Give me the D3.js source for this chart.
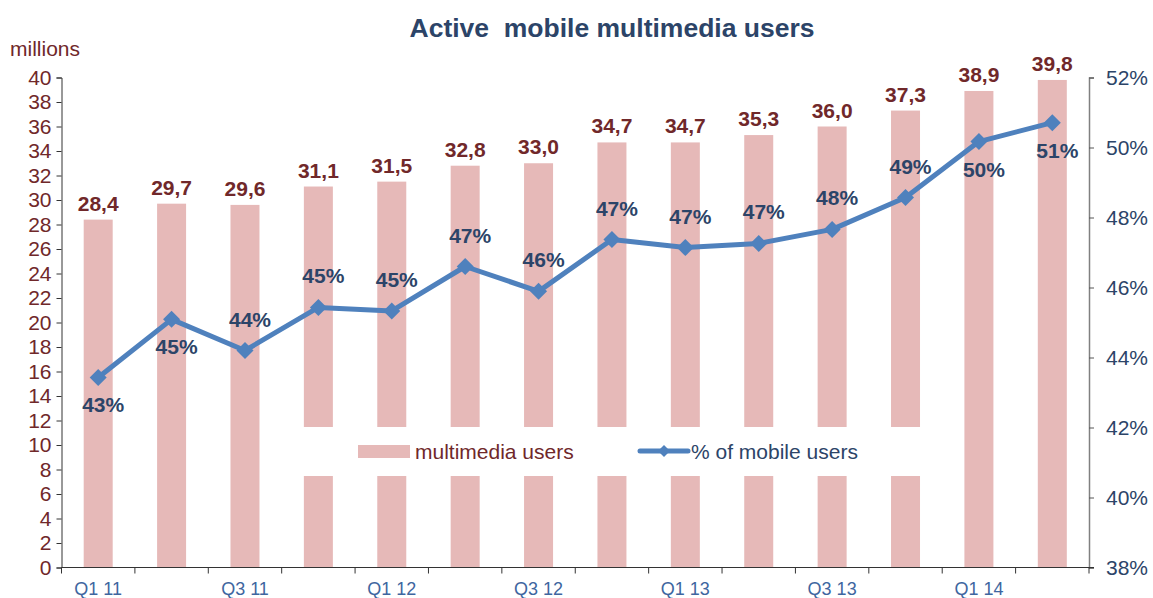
<!DOCTYPE html>
<html><head><meta charset="utf-8">
<script src="https://cdn.jsdelivr.net/npm/d3@7"></script>
<style>body{margin:0;background:#fff}svg{display:block;font-family:Arial,"Liberation Sans",sans-serif}</style>
</head><body><svg id="c" width="1153" height="598"></svg>
<script>
const categories = ["Q1 11","Q2 11","Q3 11","Q4 11","Q1 12","Q2 12","Q3 12","Q4 12","Q1 13","Q2 13","Q3 13","Q4 13","Q1 14","Q2 14"];
const users = [28.4,29.7,29.6,31.1,31.5,32.8,33.0,34.7,34.7,35.3,36.0,37.3,38.9,39.8];
const share = [43.43,45.09,44.2,45.43,45.33,46.6,45.89,47.37,47.14,47.26,47.66,48.57,50.17,50.71];
const shareLabels = ["43%","45%","44%","45%","45%","47%","46%","47%","47%","47%","48%","49%","50%","51%"];
const labelBelow = [true,true,false,false,false,false,false,false,false,false,false,false,true,true];
const xTickLabels = ["Q1 11","Q3 11","Q1 12","Q3 12","Q1 13","Q3 13","Q1 14"];
const leftTicks = d3.range(0,41,2);
const rightTicks = [38,40,42,44,46,48,50,52];

const svg = d3.select("#c");
const L = 61.5, R = 1089, T = 77.5, B = 567.5;
const xb = d3.scaleBand().domain(categories).range([L,R]);
const yL = d3.scaleLinear().domain([0,40]).range([B,T]);
const yR = d3.scaleLinear().domain([38,52]).range([B,T]);

const barColor = "#E6B9B8", lineColor = "#4F81BD", maroon = "#70282A", navy = "#2C4468";
const diamond = h => `M0,${-h}L${h},0L0,${h}L${-h},0Z`;

// title
svg.append("text").attr("x",612).attr("y",37).attr("text-anchor","middle")
  .attr("font-size",26.5).attr("font-weight","bold").attr("fill",navy)
  .attr("xml:space","preserve").text("Active  mobile multimedia users");
svg.append("text").attr("x",10).attr("y",56).attr("font-size",21).attr("fill",maroon).text("millions");

// bars
svg.append("g").selectAll("rect").data(users).join("rect")
  .attr("x",(d,i)=>xb(categories[i])+xb.bandwidth()/2-14.5)
  .attr("width",29)
  .attr("y",d=>yL(d)).attr("height",d=>B-yL(d)).attr("fill",barColor);

// bar labels
svg.append("g").selectAll("text").data(users).join("text")
  .attr("x",(d,i)=>xb(categories[i])+xb.bandwidth()/2)
  .attr("y",d=>yL(d)-9).attr("text-anchor","middle")
  .attr("font-size",21).attr("font-weight","bold").attr("fill",maroon)
  .text(d=>d.toFixed(1).replace(".",","));

// legend white box
svg.append("rect").attr("x",296).attr("y",427).attr("width",630).attr("height",49).attr("fill","#fff");

// axes
const axL = svg.append("g").attr("transform",`translate(${L},0)`)
  .call(d3.axisLeft(yL).tickValues(leftTicks).tickSize(5).tickPadding(5).tickFormat(d3.format("d")));
axL.select(".domain").attr("stroke","#333");
axL.selectAll(".tick line").attr("stroke","#333");
axL.selectAll(".tick text").attr("font-size",21).attr("fill",maroon).attr("font-family","Arial, Liberation Sans, sans-serif");

const axR = svg.append("g").attr("transform",`translate(${R},0)`)
  .call(d3.axisRight(yR).tickValues(rightTicks).tickSize(5).tickPadding(12).tickFormat(d=>d+"%"));
axR.select(".domain").attr("stroke","#808080").attr("stroke-width",1.5);
axR.selectAll(".tick line").attr("stroke","#555");
axR.selectAll(".tick text").attr("font-size",21).attr("fill",navy).attr("font-family","Arial, Liberation Sans, sans-serif");

const axB = svg.append("g").attr("transform",`translate(0,${B})`)
  .call(d3.axisBottom(xb).tickValues(xTickLabels).tickSize(0).tickPadding(15));
axB.select(".domain").attr("stroke","#333").attr("d",`M${L},0H${R+5}`);
axB.selectAll(".tick text").attr("font-size",18).attr("fill","#3E66A0").attr("font-family","Arial, Liberation Sans, sans-serif");
svg.append("g").selectAll("line").data(d3.range(categories.length+1)).join("line")
  .attr("x1",i=>L+i*xb.step()).attr("x2",i=>L+i*xb.step())
  .attr("y1",B).attr("y2",B+6).attr("stroke","#333");

// line
const cx = i => xb(categories[i])+xb.bandwidth()/2;
svg.append("path").datum(share)
  .attr("d",d3.line().x((d,i)=>cx(i)).y(d=>yR(d)))
  .attr("fill","none").attr("stroke",lineColor).attr("stroke-width",5).attr("stroke-linejoin","round");
svg.append("g").selectAll("path").data(share).join("path")
  .attr("d",diamond(8.5))
  .attr("transform",(d,i)=>`translate(${cx(i)},${yR(d)})`).attr("fill",lineColor);

svg.append("g").selectAll("text").data(share).join("text")
  .attr("x",(d,i)=>cx(i)+5)
  .attr("y",(d,i)=>labelBelow[i]?yR(d)+35:yR(d)-24)
  .attr("text-anchor","middle").attr("font-size",21).attr("font-weight","bold").attr("fill",navy)
  .text((d,i)=>shareLabels[i]);

// legend
svg.append("rect").attr("x",358).attr("y",445).attr("width",52).attr("height",13).attr("fill",barColor);
svg.append("text").attr("x",415).attr("y",459).attr("font-size",21).attr("fill",maroon).text("multimedia users");
svg.append("line").attr("x1",640).attr("x2",688).attr("y1",451).attr("y2",451)
  .attr("stroke",lineColor).attr("stroke-width",5).attr("stroke-linecap","round");
svg.append("path").attr("d",diamond(6)).attr("transform","translate(664,451)").attr("fill",lineColor);
svg.append("text").attr("x",691).attr("y",459).attr("font-size",21).attr("fill",navy).text("% of mobile users");
</script></body></html>
